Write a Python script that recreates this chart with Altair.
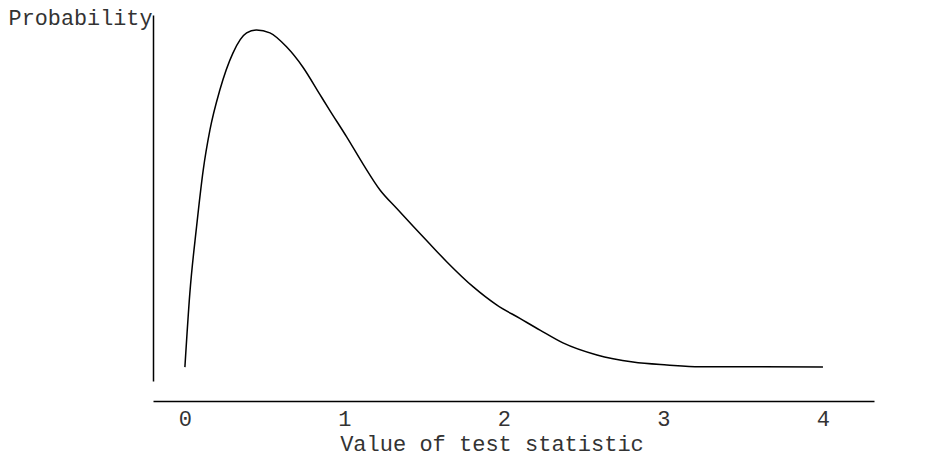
import altair as alt
import pandas as pd

# Curve (x = test statistic, y = relative probability)
x_values = [0.00, 0.031, 0.073, 0.115, 0.157, 0.219, 0.301, 0.387, 0.449, 0.533,
            0.637, 0.739, 0.846, 0.909, 1.014, 1.118, 1.223, 1.327, 1.431, 1.515,
            1.641, 1.808, 1.954, 2.100, 2.226, 2.370, 2.583, 2.809, 3.022, 3.229,
            3.542, 4.00]
y_values = [0.038, 0.240, 0.421, 0.577, 0.686, 0.795, 0.896, 0.951, 0.959, 0.951,
            0.913, 0.858, 0.783, 0.739, 0.667, 0.592, 0.522, 0.472, 0.423, 0.384,
            0.326, 0.257, 0.208, 0.171, 0.139, 0.104, 0.071, 0.052, 0.044, 0.039,
            0.039, 0.038]
x_ticks = [0, 1, 2, 3, 4]

df = pd.DataFrame({"x": x_values, "y": y_values})

FONT = "Liberation Mono"

chart = alt.Chart(df).mark_line(
    color="black", strokeWidth=1.5, interpolate="monotone"
).encode(
    x=alt.X(
        "x:Q",
        scale=alt.Scale(domain=[-0.2, 4.32], nice=False, zero=False),
        axis=alt.Axis(
            values=x_ticks,
            format="d",
            ticks=False,
            grid=False,
            offset=20,
            domainColor="black",
            domainWidth=1.5,
            labelFont=FONT,
            labelFontSize=22,
            labelColor="#333333",
            labelPadding=7,
            title="Value of test statistic",
            titleFont=FONT,
            titleFontSize=22,
            titleFontWeight="normal",
            titleColor="#333333",
            titleX=338.5,
            titleY=49,
            titleAlign="center",
            titleBaseline="alphabetic",
        ),
    ),
    y=alt.Y(
        "y:Q",
        scale=alt.Scale(domain=[0, 1], nice=False),
        axis=alt.Axis(
            labels=False,
            ticks=False,
            grid=False,
            domainColor="black",
            domainWidth=1.5,
            title="Probability",
            titleFont=FONT,
            titleFontSize=21.8,
            titleFontWeight="normal",
            titleColor="#333333",
            titleAngle=0,
            titleAlign="right",
            titleBaseline="alphabetic",
            titleX=-1,
            titleY=9,
        ),
    ),
).properties(
    width=721,
    height=366,
    autosize=alt.AutoSizeParams(type="none"),
    padding={"left": 145, "top": 7, "right": 40, "bottom": 80},
).configure_view(stroke=None)

chart.save("out.html", embed_options={"renderer": "svg", "actions": False})
